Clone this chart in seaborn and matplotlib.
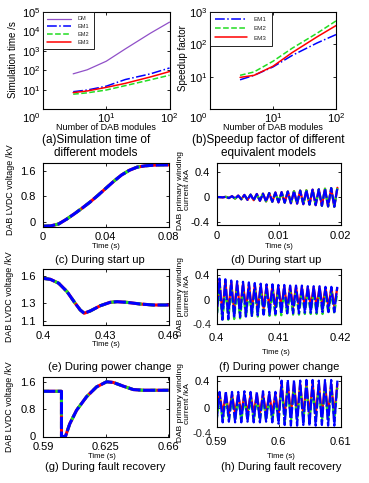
import matplotlib

matplotlib.use("Agg")
import matplotlib.pyplot as plt
import matplotlib.transforms as mtransforms
import numpy as np
import seaborn as sns
from matplotlib.ticker import NullLocator

# (a) simulation time and (b) speedup factor vs number of DAB modules
n_modules = [3, 5, 10, 20, 50, 100]
time_dm = [65, 105, 290, 1250, 8100, 30000]
time_em1 = [7.8, 9.5, 15, 33, 65, 130]
time_em2 = [5.8, 6.8, 9.5, 16, 32, 55]
time_em3 = [7.0, 8.5, 13, 21, 45, 85]
speedup_em1 = [8, 11, 20, 45, 110, 200]
speedup_em2 = [11, 14, 30, 75, 220, 530]
speedup_em3 = [9.5, 11, 21, 55, 170, 380]

# (c) LVDC voltage during start up
c_time = [0, 0.005, 0.01, 0.015, 0.02, 0.025, 0.03, 0.035, 0.04, 0.045, 0.05,
          0.055, 0.06, 0.065, 0.07, 0.075, 0.08]
c_volt = [-0.14, -0.13, -0.07, 0.08, 0.25, 0.43, 0.62, 0.83, 1.05, 1.27, 1.47,
          1.62, 1.72, 1.76, 1.78, 1.79, 1.79]

# (e) LVDC voltage during power change
e_time = [0.4, 0.4035, 0.4075, 0.4115, 0.4154, 0.4178, 0.4197, 0.4226, 0.4274,
          0.4321, 0.4353, 0.4401, 0.4465, 0.4528, 0.46]
e_volt = [1.575, 1.564, 1.52, 1.425, 1.294, 1.219, 1.182, 1.208, 1.267,
          1.305, 1.312, 1.305, 1.286, 1.275, 1.275]

# (g) LVDC voltage during fault recovery
g_time = [0.59, 0.6003, 0.60031, 0.6025, 0.6049, 0.6087, 0.6143, 0.6199,
          0.6255, 0.6292, 0.6348, 0.6404, 0.646, 0.66]
g_volt = [1.33, 1.33, 0.0, 0.0, 0.37, 0.77, 1.17, 1.46,
          1.61, 1.59, 1.48, 1.38, 1.36, 1.36]

# (d) primary current during start up (trough / peak of each switching period)
d_start, d_period = 0.0, 0.001
d_troughs = [0.0, -0.005, -0.015, -0.025, -0.035, -0.045, -0.05, -0.06, -0.07, -0.075,
             -0.085, -0.09, -0.1, -0.105, -0.115, -0.12, -0.13, -0.14, -0.15, -0.155]
d_peaks = [0.0, 0.005, 0.015, 0.025, 0.035, 0.04, 0.05, 0.055, 0.065, 0.075,
           0.08, 0.09, 0.095, 0.105, 0.11, 0.12, 0.125, 0.135, 0.145, 0.15]

# (f) primary current during power change
f_start, f_period = 0.4, 0.00095
f_troughs_em1 = [-0.32, -0.31, -0.30, -0.28, -0.27, -0.26, -0.25, -0.24, -0.23, -0.23, -0.22,
                 -0.22, -0.21, -0.21, -0.21, -0.20, -0.20, -0.20, -0.19, -0.19, -0.19]
f_peaks_em1 = [0.34, 0.33, 0.31, 0.30, 0.29, 0.28, 0.27, 0.26, 0.25, 0.25, 0.24,
               0.24, 0.23, 0.23, 0.23, 0.22, 0.22, 0.22, 0.21, 0.21, 0.21]
f_troughs_em2 = [-0.34, -0.33, -0.31, -0.30, -0.29, -0.28, -0.27, -0.26, -0.25, -0.25, -0.24,
                 -0.24, -0.23, -0.23, -0.23, -0.22, -0.22, -0.22, -0.22, -0.21, -0.21]
f_peaks_em2 = [0.22, 0.20, 0.19, 0.18, 0.17, 0.16, 0.16, 0.15, 0.15, 0.14, 0.14,
               0.14, 0.13, 0.13, 0.13, 0.13, 0.12, 0.12, 0.12, 0.12, 0.12]
f_troughs_em3 = [-0.20, -0.19, -0.18, -0.17, -0.16, -0.15, -0.14, -0.14, -0.13, -0.13, -0.12,
                 -0.12, -0.12, -0.11, -0.11, -0.11, -0.10, -0.10, -0.10, -0.10, -0.10]
f_peaks_em3 = [0.30, 0.29, 0.28, 0.27, 0.26, 0.25, 0.24, 0.23, 0.23, 0.22, 0.22,
               0.21, 0.21, 0.21, 0.20, 0.20, 0.20, 0.20, 0.19, 0.19, 0.19]

# (h) primary current during fault recovery
h_start, h_period = 0.59, 0.001
h_troughs_em1 = [-0.22, -0.22, -0.21, -0.22, -0.22, -0.21, -0.22, -0.22, -0.21, -0.22,
                 -0.24, -0.26, -0.27, -0.27, -0.26, -0.27, -0.27, -0.26, -0.27, -0.27]
h_peaks_em1 = [0.24, 0.25, 0.24, 0.24, 0.25, 0.24, 0.24, 0.25, 0.24, 0.24,
               0.41, 0.42, 0.42, 0.41, 0.42, 0.42, 0.41, 0.42, 0.42, 0.41]
h_troughs_em2 = [-0.19, -0.19, -0.19, -0.19, -0.19, -0.19, -0.19, -0.19, -0.19, -0.19,
                 -0.20, -0.21, -0.21, -0.20, -0.21, -0.21, -0.20, -0.21, -0.21, -0.20]
h_peaks_em2 = [0.14, 0.14, 0.14, 0.14, 0.14, 0.14, 0.14, 0.14, 0.14, 0.14,
               0.30, 0.31, 0.30, 0.30, 0.31, 0.30, 0.30, 0.31, 0.30, 0.30]
h_troughs_em3 = [-0.08, -0.08, -0.08, -0.08, -0.08, -0.08, -0.08, -0.08, -0.08, -0.08,
                 -0.10, -0.11, -0.10, -0.10, -0.11, -0.10, -0.10, -0.11, -0.10, -0.10]
h_peaks_em3 = [0.20, 0.20, 0.20, 0.20, 0.20, 0.20, 0.20, 0.20, 0.20, 0.20,
               0.36, 0.36, 0.36, 0.36, 0.36, 0.36, 0.36, 0.36, 0.36, 0.36]

# ticks
c_xticks, c_xlabels = [0, 0.04, 0.08], ["0", "0.04", "0.08"]
d_xticks, d_xlabels = [0, 0.01, 0.02], ["0", "0.01", "0.02"]
e_xticks, e_xlabels = [0.4, 0.43, 0.46], ["0.4", "0.43", "0.46"]
f_xticks, f_xlabels = [0.4, 0.41, 0.42], ["0.4", "0.41", "0.42"]
g_xticks, g_xlabels = [0.59, 0.625, 0.66], ["0.59", "0.625", "0.66"]
h_xticks, h_xlabels = [0.59, 0.6, 0.61], ["0.59", "0.6", "0.61"]
volt_yticks, volt_ylabels = [0, 0.8, 1.6], ["0", "0.8", "1.6"]
e_yticks, e_ylabels = [1.1, 1.3, 1.6], ["1.1", "1.3", "1.6"]
curr_yticks, curr_ylabels = [-0.4, 0, 0.4], ["-0.4", "0", "0.4"]

DM_COLOR = "#9050c8"
BLUE = "#0000ff"
GREEN = "#22dd22"
RED = "#ff0000"

sns.set_theme(style="ticks")
plt.rcParams["font.family"] = ["Liberation Sans", "DejaVu Sans"]
plt.rcParams["axes.unicode_minus"] = False
plt.rcParams["mathtext.fontset"] = "custom"
plt.rcParams["mathtext.rm"] = "Liberation Sans"

W, H = 369, 483
fig = plt.figure(figsize=(W / 100, H / 100), dpi=100)
fig.patch.set_facecolor("white")


def add_panel(left, top, right, bottom):
    ax = fig.add_axes([left / W, 1 - bottom / H, (right - left) / W, (bottom - top) / H])
    for sp in ax.spines.values():
        sp.set_linewidth(0.8)
        sp.set_color("black")
    ax.tick_params(direction="in", length=2.5, width=0.6, top=True, right=True,
                   labelsize=8, colors="black", pad=3)
    return ax


def put_text(x, y, s, size, rotation=0, **kw):
    fig.text(x / W, 1 - y / H, s, fontsize=size, rotation=rotation,
             ha="center", va="center", color="black", **kw)


def zigzag(start, period, troughs, peaks):
    t, v = [], []
    for k, (lo, hi) in enumerate(zip(troughs, peaks)):
        t += [start + k * period, start + (k + 0.5) * period]
        v += [lo, hi]
    return t, v


def draw_overlap(ax, t, v, lw=2.2):
    sns.lineplot(x=t, y=v, ax=ax, color=RED, linewidth=lw, estimator=None, sort=False)
    sns.lineplot(x=t, y=v, ax=ax, color=GREEN, linewidth=lw, linestyle=(0, (2, 2)),
                 estimator=None, sort=False)
    sns.lineplot(x=t, y=v, ax=ax, color=BLUE, linewidth=lw, linestyle=(0, (4, 0.8)),
                 estimator=None, sort=False)


def draw_three(ax, series, lw=1.6):
    (t1, v1), (t2, v2), (t3, v3) = series
    sns.lineplot(x=t3, y=v3, ax=ax, color=RED, linewidth=lw, estimator=None, sort=False)
    sns.lineplot(x=t2, y=v2, ax=ax, color=GREEN, linewidth=lw, linestyle=(0, (2.5, 1.5)),
                 estimator=None, sort=False)
    sns.lineplot(x=t1, y=v1, ax=ax, color=BLUE, linewidth=lw, linestyle=(0, (5, 1)),
                 estimator=None, sort=False)


def log_axes(ax, ymax):
    ax.set_xscale("log")
    ax.set_yscale("log")
    ax.set_xlim(1, 100)
    ax.set_ylim(1, ymax)
    ax.set_xticks([1, 10, 100], ["", r"$\mathdefault{10^{1}}$", r"$\mathdefault{10^{2}}$"])
    ax.set_yticks([10 ** k for k in range(int(np.log10(ymax)) + 1)])
    ax.xaxis.set_minor_locator(NullLocator())
    ax.yaxis.set_minor_locator(NullLocator())
    ax.tick_params(axis="x", pad=1.5)
    ax.tick_params(axis="y", pad=2)
    ax.set_xlabel("")
    ax.set_ylabel("")
    # bottom y label sits a little lower, level with the x labels
    lab = ax.yaxis.get_major_ticks()[0].label1
    lab.set_transform(lab.get_transform()
                      + mtransforms.ScaledTranslation(0, -8 / 100, fig.dpi_scale_trans))


# ---- (a)
ax = add_panel(43, 12, 169.5, 109)
sns.lineplot(x=n_modules, y=time_dm, ax=ax, color=DM_COLOR, linewidth=0.9, label="DM")
sns.lineplot(x=n_modules, y=time_em1, ax=ax, color=BLUE, linewidth=1.1, linestyle="-.", label="EM1")
sns.lineplot(x=n_modules, y=time_em2, ax=ax, color=GREEN, linewidth=1.1, linestyle="--", label="EM2")
sns.lineplot(x=n_modules, y=time_em3, ax=ax, color=RED, linewidth=1.1, label="EM3")
log_axes(ax, 1e5)
leg = ax.legend(loc="upper left", fontsize=4, handlelength=4.2, handletextpad=1.2,
                labelspacing=0.5, borderpad=0.8, borderaxespad=0, fancybox=False,
                edgecolor="black", framealpha=1)
leg.get_frame().set_linewidth(0.6)
put_text(13, 60, "Simulation time /s", 7, rotation=90)
put_text(106, 128, "Number of DAB modules", 6.5)
put_text(96, 146.5, "(a)Simulation time of\ndifferent models", 8.5, linespacing=1.05)

# ---- (b)
ax = add_panel(210, 12, 336, 109)
sns.lineplot(x=n_modules, y=speedup_em1, ax=ax, color=BLUE, linewidth=1.1, linestyle="-.", label="EM1")
sns.lineplot(x=n_modules, y=speedup_em2, ax=ax, color=GREEN, linewidth=1.1, linestyle="--", label="EM2")
sns.lineplot(x=n_modules, y=speedup_em3, ax=ax, color=RED, linewidth=1.1, label="EM3")
log_axes(ax, 1e3)
leg = ax.legend(loc="upper left", fontsize=4.5, handlelength=5.1, handletextpad=1.1,
                labelspacing=0.6, borderpad=0.8, borderaxespad=0, fancybox=False,
                edgecolor="black", framealpha=1)
leg.get_frame().set_linewidth(0.6)
put_text(183, 58, "Speedup factor", 7, rotation=90)
put_text(273, 128, "Number of DAB modules", 6.5)
put_text(268, 146.5, "(b)Speedup factor of different\nequivalent models", 8.5, linespacing=1.05)


def wave_axes(ax, xlim, ylim, xticks, xlabels, yticks, ylabels):
    ax.set_xlim(*xlim)
    ax.set_ylim(*ylim)
    ax.set_xticks(xticks, xlabels)
    ax.set_yticks(yticks, ylabels)
    ax.tick_params(axis="x", pad=4)
    ax.tick_params(axis="y", pad=5)
    ax.set_xlabel("")
    ax.set_ylabel("")


VOLT_LABEL = "DAB LVDC voltage /kV"
CURR_LABEL = "DAB primary winding\ncurrent /kA"

# ---- (c)
ax = add_panel(43, 163, 168.5, 226.5)
draw_overlap(ax, c_time, c_volt)
wave_axes(ax, (0, 0.08), (-0.15, 1.85), c_xticks, c_xlabels, volt_yticks, volt_ylabels)
put_text(11, 190, VOLT_LABEL, 6.4, rotation=90)
put_text(106, 247, "Time (s)", 5.5)
put_text(100, 260, "(c) During start up", 8)

# ---- (d)
ax = add_panel(216.5, 163, 340.5, 225)
draw_overlap(ax, *zigzag(d_start, d_period, d_troughs, d_peaks), lw=1.6)
wave_axes(ax, (0, 0.02), (-0.45, 0.55), d_xticks, d_xlabels, curr_yticks, curr_ylabels)
put_text(184, 190, CURR_LABEL, 6, rotation=90, linespacing=1.0)
put_text(279, 247, "Time (s)", 5.5)
put_text(276, 260, "(d) During start up", 8)

# ---- (e)
ax = add_panel(43, 269, 168.5, 325)
draw_overlap(ax, e_time, e_volt)
wave_axes(ax, (0.4, 0.46), (1.05, 1.68), e_xticks, e_xlabels, e_yticks, e_ylabels)
put_text(10, 297, VOLT_LABEL, 6.4, rotation=90)
put_text(106, 344, "Time (s)", 5.5)
put_text(110, 367, "(e) During power change", 8)

# ---- (f)
ax = add_panel(216.5, 268.5, 340.5, 323.5)
draw_three(ax, [zigzag(f_start, f_period, f_troughs_em1, f_peaks_em1),
                zigzag(f_start, f_period, f_troughs_em2, f_peaks_em2),
                zigzag(f_start, f_period, f_troughs_em3, f_peaks_em3)])
wave_axes(ax, (0.4, 0.42), (-0.37, 0.5), f_xticks, f_xlabels, curr_yticks[1:], curr_ylabels[1:])
ax.tick_params(axis="x", pad=7)
ax.text(-0.04, curr_yticks[0], curr_ylabels[0], transform=ax.get_yaxis_transform(),
        ha="right", va="center", fontsize=8, clip_on=False)
put_text(184, 296, CURR_LABEL, 6, rotation=90, linespacing=1.0)
put_text(276, 353, "Time (s)", 5.5)
put_text(279, 367, "(f) During power change", 8)

# ---- (g)
ax = add_panel(43, 377, 168.5, 436.5)
draw_overlap(ax, g_time, g_volt)
wave_axes(ax, (0.59, 0.66), (0, 1.75), g_xticks, g_xlabels, volt_yticks, volt_ylabels)
put_text(10, 407, VOLT_LABEL, 6.4, rotation=90)
put_text(102, 456, "Time (s)", 5.5)
put_text(105, 467, "(g) During fault recovery", 8)

# ---- (h)
ax = add_panel(216.5, 376, 340.5, 427)
draw_three(ax, [zigzag(h_start, h_period, h_troughs_em1, h_peaks_em1),
                zigzag(h_start, h_period, h_troughs_em2, h_peaks_em2),
                zigzag(h_start, h_period, h_troughs_em3, h_peaks_em3)])
wave_axes(ax, (0.59, 0.61), (-0.29, 0.48), h_xticks, h_xlabels, curr_yticks[1:], curr_ylabels[1:])
ax.tick_params(axis="x", pad=7)
ax.text(-0.04, curr_yticks[0], curr_ylabels[0], transform=ax.get_yaxis_transform(),
        ha="right", va="center", fontsize=8, clip_on=False)
put_text(184, 403, CURR_LABEL, 6, rotation=90, linespacing=1.0)
put_text(281, 457, "Time (s)", 5.5)
put_text(281, 467, "(h) During fault recovery", 8)

fig.savefig("out.png", dpi=100, facecolor="white")
